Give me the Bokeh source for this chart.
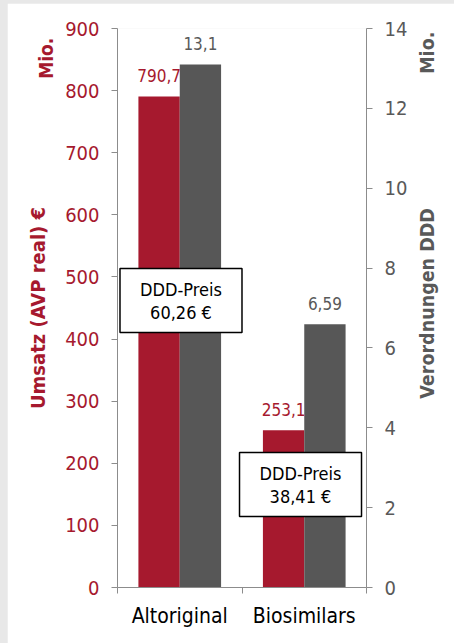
import numpy as np
from bokeh.plotting import figure
from bokeh.models import Range1d, LinearAxis, FixedTicker, Label, ColumnDataSource
from bokeh.layouts import column
from bokeh.embed import file_html
from bokeh.resources import INLINE
from bokeh.core.properties import value

# --- data -------------------------------------------------------------
categories = ["Altoriginal", "Biosimilars"]
umsatz = [790.7, 253.1]          # Umsatz (AVP real), Mio. €
verordnungen = [13.1, 6.59]      # Verordnungen, Mio. DDD
ddd_preis = [60.26, 38.41]       # DDD-Preis in €
left_ticks = [0, 100, 200, 300, 400, 500, 600, 700, 800, 900]
right_ticks = [0, 2, 4, 6, 8, 10, 12, 14]

# --- style ------------------------------------------------------------
FONT = "DejaVu Sans Condensed"
RED = "#a6192e"
DARK = "#575757"
GRAY_TXT = "#595959"
AXIS = "#8c8c8c"
NBSP = "\u00a0"


def de(v):
    return f"{v:g}".replace(".", ",")


idx = np.arange(len(categories)) + 0.5
off = 0.166
bw = 0.332

p = figure(width=447, height=640, x_range=Range1d(0, 2), y_range=Range1d(0, 900),
           output_backend="svg", toolbar_location=None,
           min_border_left=110, min_border_right=88, min_border_top=25, min_border_bottom=56)
p.margin = (3, 0, 0, 7)
p.extra_y_ranges = {"ddd": Range1d(0, 14)}
p.outline_line_color = None
p.grid.grid_line_color = None
p.background_fill_color = "white"
p.border_fill_color = "white"

src_l = ColumnDataSource(dict(x=idx - off, top=umsatz, lab=[de(v) for v in umsatz]))
src_r = ColumnDataSource(dict(x=idx + off, top=verordnungen, lab=[de(v) for v in verordnungen]))

p.vbar(x="x", top="top", width=bw, source=src_l, fill_color=RED, line_color=None)
p.vbar(x="x", top="top", width=bw, source=src_r, fill_color=DARK, line_color=None, y_range_name="ddd")

p.text(x="x", y="top", text="lab", source=src_l, text_align="center", text_baseline="middle",
       y_offset=-21, text_color=RED, text_font=value(FONT), text_font_size="17px")
p.text(x="x", y="top", text="lab", source=src_r, text_align="center", text_baseline="middle",
       y_offset=-21, text_color=GRAY_TXT, text_font=value(FONT), text_font_size="17px", y_range_name="ddd")

# price boxes
box_x = [0.51, 1.47]
box_y = [462, 166]
p.rect(x=box_x, y=box_y, width=122, height=64, width_units="screen", height_units="screen",
       fill_color="white", line_color="black", line_width=1.5)
p.text(x=box_x, y=box_y, text=["DDD-Preis"] * len(box_x), y_offset=-11, text_align="center",
       text_baseline="middle", text_color="black", text_font=value(FONT), text_font_size="18px")
p.text(x=box_x, y=box_y, text=[f"{v:.2f} €".replace(".", ",") for v in ddd_preis], y_offset=12,
       text_align="center", text_baseline="middle", text_color="black", text_font=value(FONT),
       text_font_size="18px")

# x axis: category labels centred, ticks at the category borders
xa = p.xaxis[0]
xa.ticker = FixedTicker(ticks=list(idx), minor_ticks=[0, 1, 2])
xa.major_label_overrides = {float(v): c for v, c in zip(idx, categories)}
xa.major_tick_out = 0
xa.major_tick_in = 0
xa.minor_tick_out = 6
xa.minor_tick_in = 0
xa.axis_line_color = AXIS
xa.minor_tick_line_color = AXIS
xa.major_label_text_font = FONT
xa.major_label_text_font_size = "21px"
xa.major_label_text_color = "black"
xa.major_label_standoff = 10

# left axis
ya = p.yaxis[0]
ya.ticker = FixedTicker(ticks=left_ticks, minor_ticks=[])
ya.major_tick_out = 6
ya.major_tick_in = 0
ya.axis_line_color = AXIS
ya.major_tick_line_color = AXIS
ya.major_label_text_font = FONT
ya.major_label_text_font_size = "20px"
ya.major_label_text_color = RED
ya.major_label_standoff = 12

# right axis
ra = LinearAxis(y_range_name="ddd", ticker=FixedTicker(ticks=right_ticks, minor_ticks=[]))
ra.major_tick_out = 6
ra.major_tick_in = 0
ra.axis_line_color = AXIS
ra.major_tick_line_color = AXIS
ra.major_label_text_font = FONT
ra.major_label_text_font_size = "20px"
ra.major_label_text_color = GRAY_TXT
ra.major_label_standoff = 12
p.add_layout(ra, "right")

# axis titles and unit markers, placed in the side panels so they are not clipped
bold = dict(angle=np.pi / 2, text_baseline="middle", text_font=FONT, text_font_style="bold")
p.add_layout(Label(x=-0.639, y=450, text="Umsatz (AVP real) €", text_align="center",
                   text_font_size="20px", text_color=RED, **bold), "left")
p.add_layout(Label(x=-0.578, y=852, text="Mio.", text_align="center",
                   text_font_size="19px", text_color=RED, **bold), "left")
p.add_layout(Label(x=2.486, y=304, text="Verordnungen DDD" + NBSP * 22 + "Mio.", text_align="left",
                   text_font_size="19.5px", text_color=GRAY_TXT, **bold), "right")

page = column(p, styles={"background-color": "#e8e8e8"})
open("out.html", "w").write(file_html(page, INLINE))
